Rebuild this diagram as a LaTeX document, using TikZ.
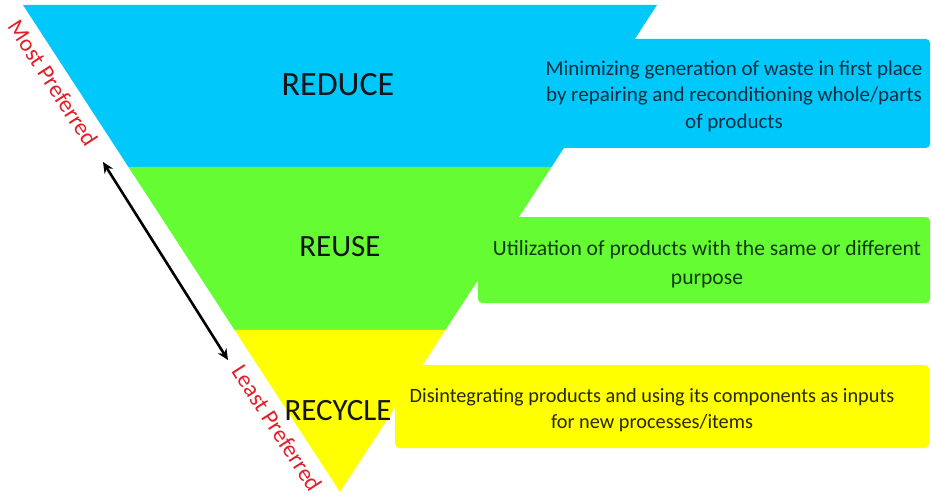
\documentclass[tikz,border=0pt]{standalone}
\usepackage{fontspec}
\setmainfont{Carlito}
\usetikzlibrary{arrows.meta,calc}
\definecolor{cblue}{RGB}{0,200,250}
\definecolor{cgreen}{RGB}{102,252,51}
\definecolor{cyellow}{RGB}{255,255,0}
\definecolor{tblue}{RGB}{10,46,64}
\definecolor{tgreen}{RGB}{12,58,16}
\definecolor{tyellow}{RGB}{40,40,0}
\definecolor{lbl}{RGB}{20,20,25}
\definecolor{cred}{RGB}{228,30,40}
\tikzset{
  descbox/.style={rounded corners=4pt},
  level/.style={font=\fontsize{31}{36}\selectfont, text=lbl, inner sep=0pt},
  desc/.style={align=center, inner sep=0pt},
  pref/.style={rotate=-57, text=cred, font=\fontsize{23.5}{28}\selectfont, inner sep=0pt},
}
\begin{document}
\begin{tikzpicture}[x=1pt,y=-1pt]
\useasboundingbox (0,0) rectangle (932,500);
% description boxes
\fill[cblue, descbox] (538,39) rectangle (930,148);
\fill[cgreen, descbox] (478,217) rectangle (930,303);
\fill[cyellow, descbox] (395,365) rectangle (929,448);
% inverted triangle
\coordinate (TL) at (23,5);
\coordinate (TR) at (657,5);
\coordinate (AP) at (340,492);
\coordinate (L1) at ($(TL)!{162/487}!(AP)$);
\coordinate (R1) at ($(TR)!{162/487}!(AP)$);
\coordinate (L2) at ($(TL)!{325/487}!(AP)$);
\coordinate (R2) at ($(TR)!{325/487}!(AP)$);
\fill[cblue] (TL) -- (TR) -- (R1) -- (L1) -- cycle;
\fill[cgreen] (L1) -- (R1) -- (R2) -- (L2) -- cycle;
\fill[cyellow] (L2) -- (R2) -- (AP) -- cycle;
% level labels
\node[level, font=\fontsize{34}{40}\selectfont] (reduce) at (338,85) {REDUCE};
\node[level] (reuse) at (340,247) {REUSE};
\node[level] (recycle) at (338,411) {RECYCLE};
% descriptions
\node[desc, text=tblue, font=\fontsize{21}{26.5}\selectfont] (dreduce) at (734,96) {Minimizing generation of waste in first place\\by repairing and reconditioning whole/parts\\of products};
\node[desc, text=tgreen, font=\fontsize{21.6}{28.5}\selectfont] (dreuse) at (707,264) {Utilization of products with the same or different\\purpose};
\node[desc, text=tyellow, font=\fontsize{20.3}{25.5}\selectfont] (drecycle) at (652,410) {Disintegrating products and using its components as inputs\\for new processes/items};
% preference labels and arrow
\node[pref] (most) at (53,83) {Most Preferred};
\node[pref] (least) at (277,428) {Least Preferred};
\coordinate (a1) at (103,162);
\coordinate (a2) at (228,360);
\draw[{Stealth[length=11pt,width=10pt]}-{Stealth[length=11pt,width=10pt]}, line width=2.6pt, black] (a1) -- (a2);
\end{tikzpicture}
\end{document}
